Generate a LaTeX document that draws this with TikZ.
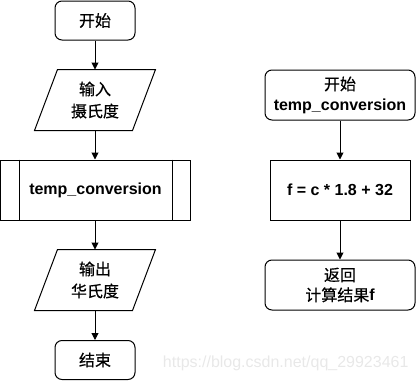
\documentclass[tikz,border=0pt]{standalone}
\usepackage{fontspec}
\setmainfont{Liberation Sans}
\newfontface\cjk{Noto Sans CJK SC}[FakeBold=0.5]
\newcommand\zh[1]{{\cjk #1}}
\usetikzlibrary{arrows.meta}
\begin{document}
\begin{tikzpicture}[x=1pt,y=-1pt,
  every node/.style={font=\fontsize{16}{22}\selectfont\bfseries, align=center, inner sep=0pt, line width=1pt},
  term/.style={draw, rounded corners=7pt, minimum width=80pt, minimum height=39pt},
  iobox/.style={minimum width=97pt, minimum height=60pt},
  subbox/.style={draw, minimum width=190pt, minimum height=60pt},
  procbox/.style={draw, minimum width=140pt, minimum height=60pt},
  rterm/.style={draw, rounded corners=7pt, minimum width=150pt, minimum height=50pt, font=\fontsize{16}{20}\selectfont\bfseries},
  conn/.style={line width=1pt, -{Triangle[length=7pt,width=7pt]}},
  outl/.style={line width=1pt, line join=miter}
]
\useasboundingbox (0,0) rectangle (416,381);

% left column
\node[term] (s) at (95,20.5) {\zh{开始}};
\node[iobox] (in) at (95,100) {\zh{输入}\\\zh{摄氏度}};
\draw[outl] ([xshift=11.5pt]in.north west) -- ([xshift=11.5pt]in.north east)
  -- ([xshift=-11.5pt]in.south east) -- ([xshift=-11.5pt]in.south west) -- cycle;
\node[subbox] (p) at (95.5,190) {temp\_conversion};
\draw[outl] ([xshift=19pt]p.north west) -- ([xshift=19pt]p.south west);
\draw[outl] ([xshift=-19pt]p.north east) -- ([xshift=-19pt]p.south east);
\node[iobox] (out) at (95,280) {\zh{输出}\\\zh{华氏度}};
\draw[outl] ([xshift=11.5pt]out.north west) -- ([xshift=11.5pt]out.north east)
  -- ([xshift=-11.5pt]out.south east) -- ([xshift=-11.5pt]out.south west) -- cycle;
\node[term] (e) at (95,360) {\zh{结束}};

\draw[conn] (s.south) -- (in.north);
\draw[conn] (in.south) -- (in.south |- p.north);
\draw[conn] (out.north |- p.south) -- (out.north);
\draw[conn] (out.south) -- (e.north);

% right column
\node[rterm] (rs) at (340,95) {\zh{开始}\\temp\_conversion};
\node[procbox] (c) at (340,190) {f = c * 1.8 + 32};
\node[rterm] (r) at (340,285) {\zh{返回}\\\zh{计算结果}f};
\draw[conn] (rs.south) -- (c.north);
\draw[conn] (c.south) -- (r.north);

% watermark
\node[font=\fontsize{16}{19}\selectfont, text=black!9, anchor=east] (wm) at (409,363) {https://blog.csdn.net/qq\_29923461};
\end{tikzpicture}
\end{document}
